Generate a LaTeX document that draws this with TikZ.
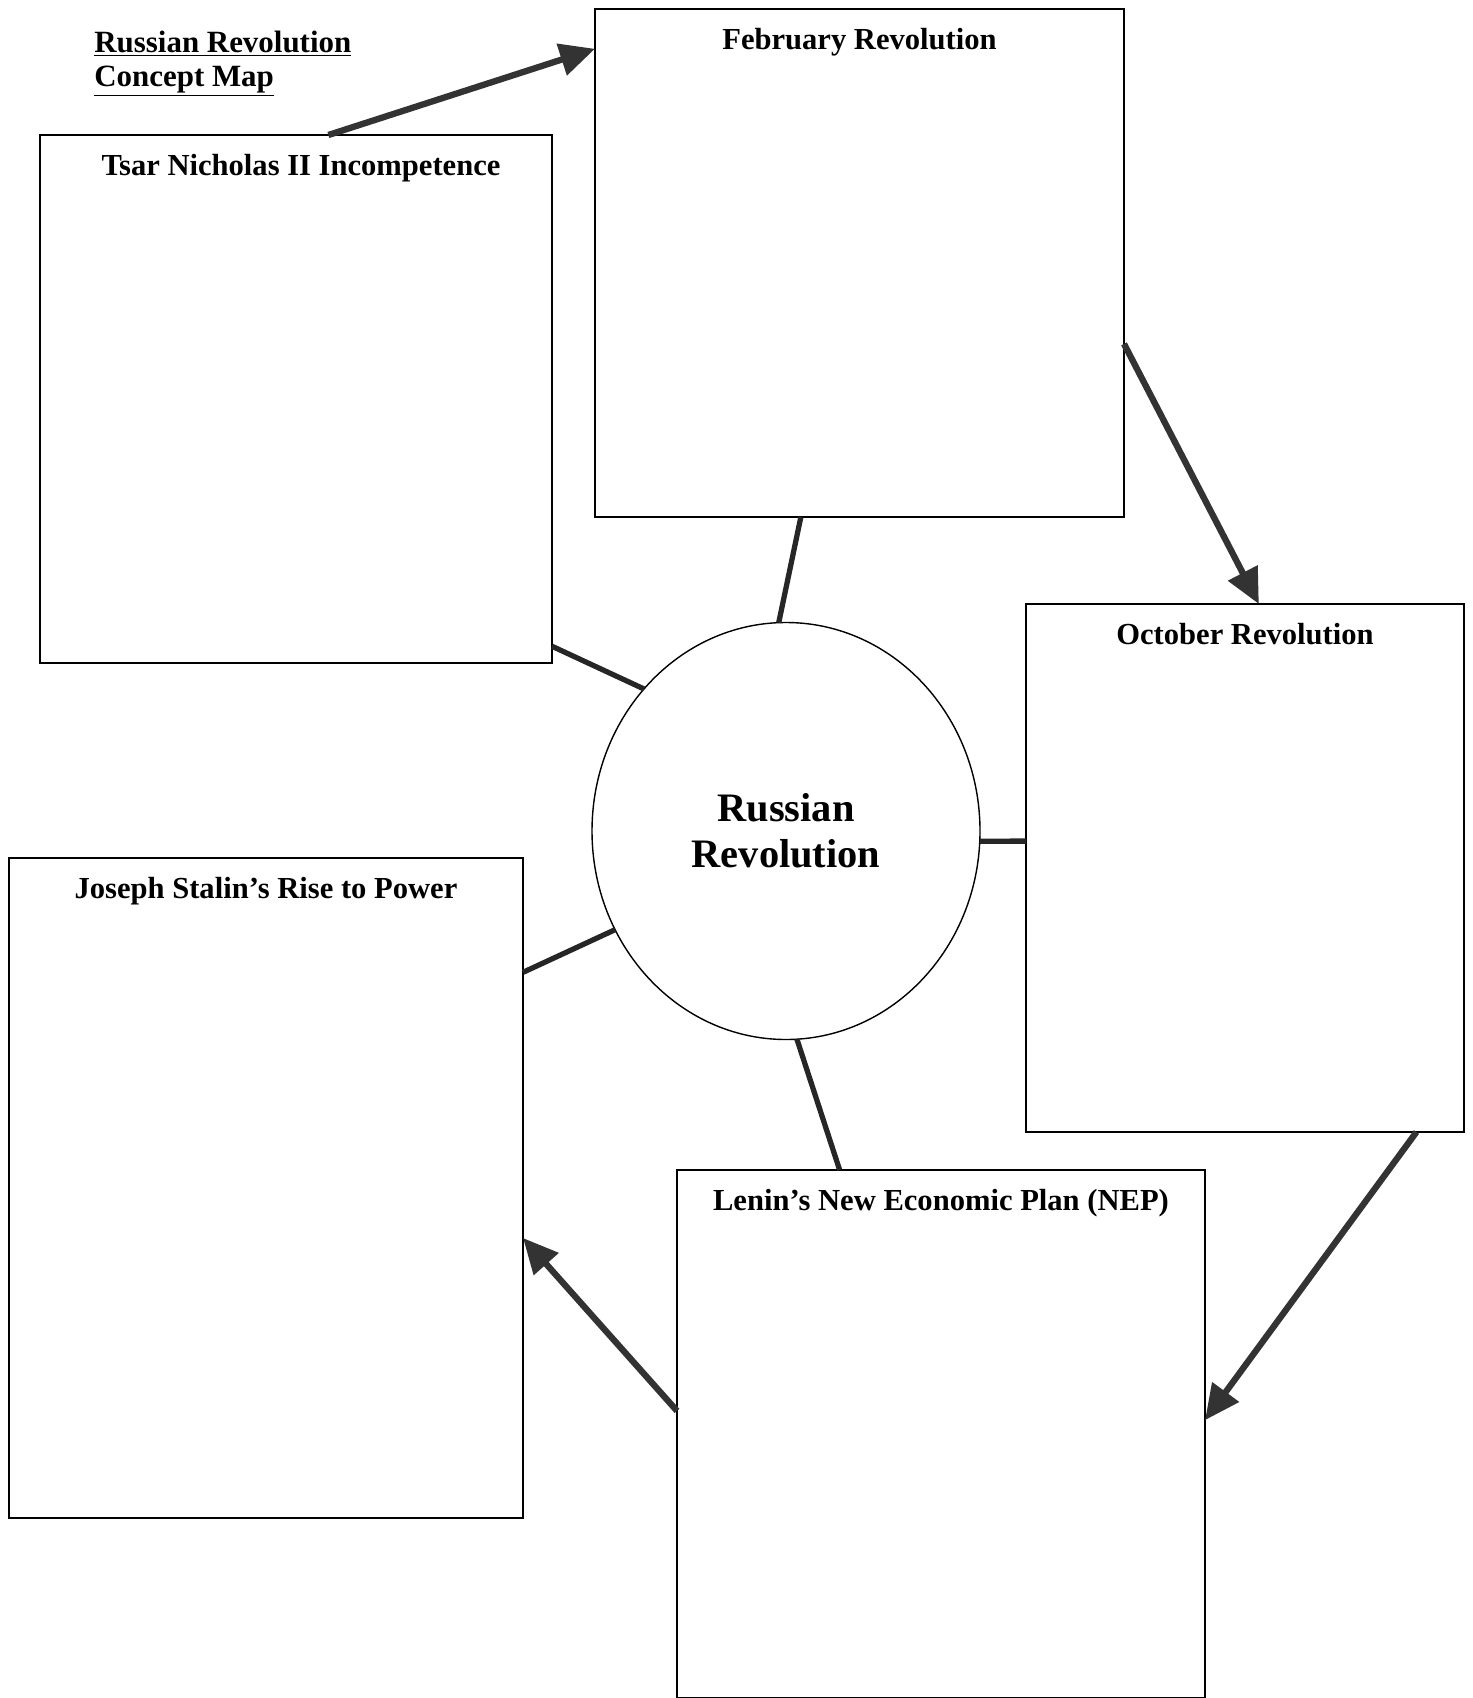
\documentclass[tikz,border=0pt]{standalone}
\usepackage{fontspec}
\setmainfont{Liberation Serif}
\usepackage{tikz}
\usetikzlibrary{arrows.meta,positioning,shapes.geometric}
\tikzset {
	topic/.style={rectangle, draw, line width=1.1pt, inner sep=0pt, outer sep=0pt},
	heading/.style={font=\fontsize{17.4}{20}\selectfont\bfseries, inner sep=0pt, outer sep=0pt,
					text height=12pt, text depth=4pt},
	hub/.style={ellipse, draw, line width=0.8pt, inner sep=0pt, outer sep=0pt, align=center,
					minimum width=77.6mm, minimum height=83.4mm, font=\fontsize{23}{26}\selectfont\bfseries},
	spoke/.style={draw=black!85, line width=3pt},
	flow/.style={draw=black!80, line width=3.6pt, -{Triangle[length=7mm, width=6.4mm]}}
}

\begin{document}
\begin{tikzpicture}[x=0.2mm, y=-0.2mm]
					\useasboundingbox (0,0) rectangle (1473,1698);
					\node [anchor=north west, align=left, inner sep=0pt, font=\fontsize{17.6}{19.3}\selectfont\bfseries]
						(mapTitle) at (94,31) {\underline{Russian Revolution}\\\underline{Concept Map}};
					% the five topics
					\node [topic, minimum width=102.4mm, minimum height=105.6mm] (tsar) at (296,399) {};
					\node [topic, minimum width=105.8mm, minimum height=101.6mm] (february) at (859.5,263) {};
					\node [topic, minimum width=87.6mm, minimum height=105.6mm] (october) at (1245,868) {};
					\node [topic, minimum width=102.8mm, minimum height=132mm] (stalin) at (266,1188) {};
					\node [topic, minimum width=105.6mm, minimum height=105.6mm] (lenin) at (941,1434) {};
					\node [heading, below=3.8mm of tsar.north, xshift=1mm] {Tsar Nicholas II Incompetence};
					\node [heading, below=3.8mm of february.north] {February Revolution};
					\node [heading, below=3.8mm of october.north] {October Revolution};
					\node [heading, below=3.8mm of stalin.north] {Joseph Stalin’s Rise to Power};
					\node [heading, below=3.8mm of lenin.north] {Lenin’s New Economic Plan (NEP)};
					% centre
					\node [hub] (revolution) at (786,831) {Russian\\Revolution};
					\draw [spoke] (february.-103.2) -- (revolution.92.5);
					\draw [spoke] (tsar.-44) -- (revolution.135.8);
					\draw [spoke] (revolution.-3.5) -- (october.173.5);
					\draw [spoke] (stalin.40.4) -- (revolution.-150.7);
					\draw [spoke] (lenin.111.1) -- (revolution.-87.3);
					% sequence
					\draw [flow] (tsar.83.7) -- (february.141);
					\draw [flow] (february.-17.1) -- (october.87.6);
					\draw [flow] (october.-57.7) -- (lenin.3.9);
					\draw [flow] (lenin.175) -- (stalin.-11.1);
					\end{tikzpicture}
\end{document}
